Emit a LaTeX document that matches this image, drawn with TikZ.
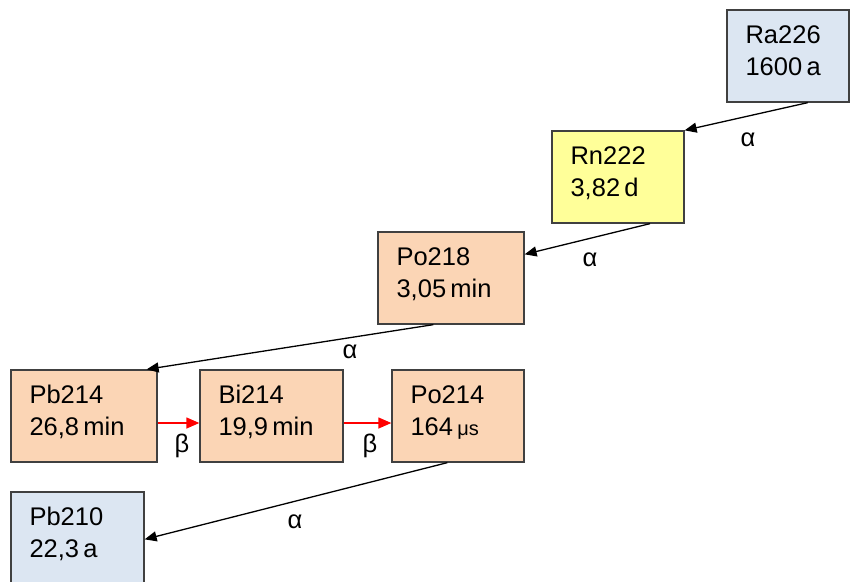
\documentclass[tikz,border=0pt]{standalone}
\usepackage{fontspec}
\setmainfont{Liberation Sans}
\usetikzlibrary{arrows.meta,calc}
\definecolor{bluefill}{HTML}{DCE6F2}
\definecolor{yellowfill}{HTML}{FFFF99}
\definecolor{peachfill}{HTML}{FBD5B5}
\definecolor{edgegray}{HTML}{404040}
\begin{document}
\begin{tikzpicture}[x=1pt,y=-1pt,
  nbox/.style={draw=edgegray,line width=1.3pt,minimum height=92pt,inner sep=0pt},
  txt/.style={anchor=base west,inner sep=0pt,font=\fontsize{25.5}{30}\selectfont},
  lab/.style={inner sep=0pt,font=\fontsize{25.5}{30}\selectfont},
  alphaarrow/.style={draw=black,line width=1.3pt,-{Triangle[length=12pt,width=10pt]}},
  betaarrow/.style={draw=red,line width=1.3pt,-{Triangle[length=13pt,width=11pt]}}]
\useasboundingbox (0,0) rectangle (851,581);
\clip (0,0) rectangle (851,581);
% boxes
\node[nbox,fill=bluefill,minimum width=122pt] (ra) at (788,56) {};
\node[nbox,fill=yellowfill,minimum width=132pt] (rn) at (618,177) {};
\node[nbox,fill=peachfill,minimum width=146pt] (po218) at (451,278) {};
\node[nbox,fill=peachfill,minimum width=146pt] (pb214) at (84,416) {};
\node[nbox,fill=peachfill,minimum width=143pt] (bi214) at (271.5,416) {};
\node[nbox,fill=peachfill,minimum width=132pt] (po214) at (458,416) {};
\node[nbox,fill=bluefill,minimum width=133pt] (pb210) at (77.5,538) {};
% texts
\node[txt] (ra-a) at ($(ra.north west)+(19,34)$) {Ra226};
\node[txt] (ra-b) at ($(ra.north west)+(19,66)$) {1600\,a};
\node[txt] (rn-a) at ($(rn.north west)+(19,34)$) {Rn222};
\node[txt] (rn-b) at ($(rn.north west)+(19,66)$) {3,82\,d};
\node[txt] (po218-a) at ($(po218.north west)+(19,34)$) {Po218};
\node[txt] (po218-b) at ($(po218.north west)+(19,66)$) {3,05\,min};
\node[txt] (pb214-a) at ($(pb214.north west)+(19,34)$) {Pb214};
\node[txt] (pb214-b) at ($(pb214.north west)+(19,66)$) {26,8\,min};
\node[txt] (bi214-a) at ($(bi214.north west)+(19,34)$) {Bi214};
\node[txt] (bi214-b) at ($(bi214.north west)+(19,66)$) {19,9\,min};
\node[txt] (po214-a) at ($(po214.north west)+(19,34)$) {Po214};
\node[txt] (po214-b) at ($(po214.north west)+(19,66)$) {164\,{\fontsize{20}{24}\selectfont μs}};
\node[txt] (pb210-a) at ($(pb210.north west)+(19,34)$) {Pb210};
\node[txt] (pb210-b) at ($(pb210.north west)+(19,66)$) {22,3\,a};
% arrows
\draw[alphaarrow] ($(ra.south west)!0.66!(ra.south east)$) -- (rn.north east);
\draw[alphaarrow] ($(rn.south west)!0.74!(rn.south east)$) -- ($(po218.north east)+(0,23)$);
\draw[alphaarrow] ($(po218.south west)!0.38!(po218.south east)$) -- ($(pb214.north east)+(-11,0)$);
\draw[betaarrow] ($(pb214.east)+(0,7)$) -- ($(bi214.west)+(0,7)$);
\draw[betaarrow] ($(bi214.east)+(0,7)$) -- ($(po214.west)+(0,7)$);
\draw[alphaarrow] ($(po214.south west)!0.42!(po214.south east)$) -- ($(pb210.north east)+(0,48)$);
% labels
\node[lab] (l1) at (748,140) {α};
\node[lab] (l2) at (590,260) {α};
\node[lab] (l3) at (350,352) {α};
\node[lab] (l4) at (182,446) {β};
\node[lab] (l5) at (370,446) {β};
\node[lab] (l6) at (295,522) {α};
\end{tikzpicture}
\end{document}
